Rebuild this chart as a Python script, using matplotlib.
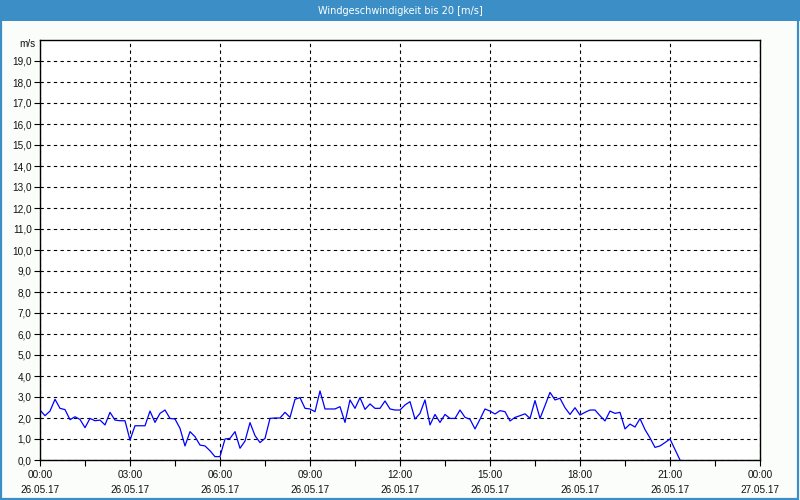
import numpy as np
import matplotlib
matplotlib.use("Agg")
import matplotlib.pyplot as plt
from matplotlib.patches import Rectangle

title = "Windgeschwindigkeit bis 20 [m/s]"
unit = "m/s"

# wind speed every 10 minutes starting 26.05.17 00:00
wind_speed = [
    2.38, 2.11, 2.33, 2.89, 2.46, 2.40, 1.92, 2.06, 1.93, 1.54,
    1.98, 1.87, 1.90, 1.67, 2.27, 1.90, 1.87, 1.87, 0.95, 1.63,
    1.63, 1.63, 2.33, 1.79, 2.22, 2.38, 1.98, 1.95, 1.51, 0.67,
    1.35, 1.11, 0.71, 0.67, 0.44, 0.16, 0.16, 1.00, 1.03, 1.35,
    0.56, 0.90, 1.78, 1.16, 0.83, 1.03, 1.98, 2.00, 2.00, 2.27,
    2.03, 2.89, 2.97, 2.46, 2.43, 2.30, 3.29, 2.43, 2.43, 2.43,
    2.54, 1.79, 2.86, 2.46, 2.97, 2.41, 2.67, 2.46, 2.46, 2.81,
    2.43, 2.38, 2.38, 2.62, 2.78, 1.95, 2.22, 2.86, 1.67, 2.17,
    1.79, 2.17, 1.98, 1.98, 2.38, 2.03, 1.94, 1.48, 1.94, 2.43,
    2.33, 2.19, 2.35, 2.30, 1.86, 2.03, 2.11, 2.20, 1.98, 2.83,
    1.98, 2.59, 3.22, 2.86, 2.94, 2.49, 2.17, 2.49, 2.14, 2.27,
    2.38, 2.38, 2.11, 1.86, 2.33, 2.22, 2.27, 1.48, 1.71, 1.57,
    1.97, 1.45, 1.05, 0.60, 0.67, 0.83, 1.00, 0.50, 0.00,
]
step_minutes = 10
hours = np.arange(len(wind_speed)) * step_minutes / 60.0

x_ticks = [0, 3, 6, 9, 12, 15, 18, 21, 24]
x_tick_labels = ["00:00\n26.05.17", "03:00\n26.05.17", "06:00\n26.05.17",
                 "09:00\n26.05.17", "12:00\n26.05.17", "15:00\n26.05.17",
                 "18:00\n26.05.17", "21:00\n26.05.17", "00:00\n27.05.17"]
y_ticks = list(range(0, 20))
y_tick_labels = [f"{v},0" for v in y_ticks]

plt.rcParams['font.family'] = ['Liberation Sans', 'DejaVu Sans']

fig = plt.figure(figsize=(8, 5), dpi=100)
fig.patch.set_facecolor("#fbfdfb")

# title bar and frame
fig.patches.append(Rectangle((0, 1 - 21 / 500), 1, 21 / 500, transform=fig.transFigure,
                             facecolor="#3c8fc6", edgecolor="none", zorder=0))
fig.patches.append(Rectangle((0.001, 0.002), 0.997, 0.995, transform=fig.transFigure,
                             facecolor="none", edgecolor="#3c8fc6", linewidth=1.6, zorder=0))
fig.text(0.5, 1 - 11 / 500, title, color="white", ha="center", va="center",
         fontsize=7, family=['DejaVu Sans'])

ax = fig.add_axes([40 / 800, 40 / 500, 720 / 800, 420 / 500])
ax.set_facecolor("white")
ax.plot(hours, wind_speed, color="#0000ff", linewidth=0.9, clip_on=True)

ax.set_xlim(0, 24)
ax.set_ylim(0, 20)
ax.set_xticks(x_ticks)
ax.set_xticklabels(x_tick_labels, fontsize=7.2, color="#111111", linespacing=1.6)
ax.set_xticks(np.arange(1.5, 24, 3), minor=True)
ax.set_yticks(y_ticks)
ax.set_yticklabels(y_tick_labels, fontsize=7.2, color="#111111")

ax.tick_params(axis="both", which="both", direction="out", length=4, width=0.8, color="black")
ax.tick_params(axis="x", pad=3)
ax.tick_params(axis="y", pad=2)

ax.grid(True, which="major", color="black", linestyle=(0, (3, 3)), linewidth=0.8)
for s in ax.spines.values():
    s.set_color("black")
    s.set_linewidth(1.0)

ax.text(-0.006, 0.99, unit, transform=ax.transAxes, ha="right", va="center",
        fontsize=7.2, color="#111111")

fig.savefig("out.png", dpi=100, facecolor=fig.get_facecolor())
